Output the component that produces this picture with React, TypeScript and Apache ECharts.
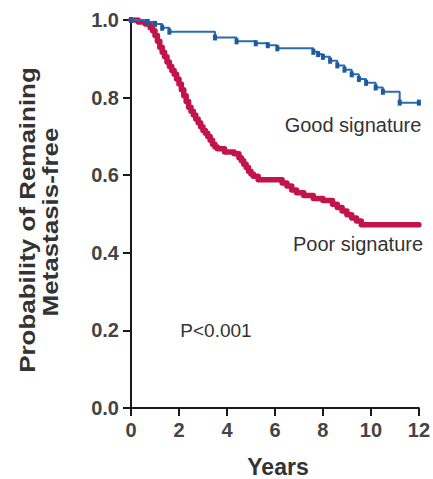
import React, { useEffect, useRef } from "react";
import * as echarts from "echarts";

const xTicks = [0, 2, 4, 6, 8, 10, 12];
const yTicks = [0, 0.2, 0.4, 0.6, 0.8, 1.0];

const goodTimes = [0, 0.7, 1.0, 1.3, 1.6, 3.5, 4.4, 5.2, 5.7, 6.1, 7.6, 7.8, 8.0, 8.3, 8.6, 8.9, 9.2, 9.5, 9.8, 10.2, 10.5, 11.2, 12];
const goodSurv = [1.0, 0.995, 0.99, 0.98, 0.97, 0.955, 0.945, 0.94, 0.935, 0.927, 0.918, 0.912, 0.905, 0.895, 0.883, 0.872, 0.86, 0.848, 0.838, 0.826, 0.815, 0.787, 0.787];

const poorTimes = [0, 0.3, 0.6, 0.8, 0.9, 1.0, 1.1, 1.2, 1.3, 1.4, 1.5, 1.6, 1.7, 1.8, 1.9, 2.0, 2.1, 2.2, 2.3, 2.4, 2.5, 2.6, 2.7, 2.8, 2.9, 3.0, 3.1, 3.2, 3.3, 3.4, 3.5, 3.6, 3.9, 4.3, 4.5, 4.6, 4.7, 4.8, 4.9, 5.0, 5.1, 5.3, 6.3, 6.5, 6.7, 6.9, 7.2, 7.6, 8.0, 8.4, 8.6, 8.8, 9.0, 9.2, 9.4, 9.6, 12];
const poorSurv = [1.0, 0.995, 0.99, 0.98, 0.972, 0.96, 0.945, 0.93, 0.917, 0.905, 0.892, 0.88, 0.87, 0.86, 0.848, 0.835, 0.82, 0.805, 0.79, 0.775, 0.765, 0.755, 0.745, 0.735, 0.725, 0.715, 0.708, 0.7, 0.69, 0.68, 0.673, 0.668, 0.66, 0.655, 0.645, 0.637, 0.628, 0.62, 0.61, 0.603, 0.597, 0.588, 0.58, 0.572, 0.562, 0.555, 0.548, 0.54, 0.535, 0.525, 0.517, 0.508, 0.498, 0.49, 0.482, 0.472, 0.472];

const yTitle = ["Probability of Remaining", "Metastasis-free"];
const xTitle = "Years";
const goodLabel = "Good signature";
const poorLabel = "Poor signature";
const pLabel = "P<0.001";

const FONT = "'Liberation Sans', Arial, sans-serif";
const TEXT = "#333333";

export default function App() {
  const ref = useRef<HTMLDivElement>(null);
  useEffect(() => {
    if (!ref.current) return;
    const chart = echarts.init(ref.current, null, { renderer: "svg" });
    const axisCommon = {
      axisLine: { show: true, lineStyle: { color: "#1a1a1a", width: 2 } },
      axisTick: { show: true, length: 8, lineStyle: { color: "#1a1a1a", width: 2 } },
      splitLine: { show: false },
    };
    chart.setOption({
      animation: false,
      backgroundColor: "#ffffff",
      grid: { left: 131, top: 20, right: 13, bottom: 71, containLabel: false },
      xAxis: {
        type: "value",
        min: xTicks[0],
        max: xTicks[xTicks.length - 1],
        interval: 2,
        ...axisCommon,
        axisLabel: {
          margin: 12,
          fontFamily: FONT,
          fontSize: 20,
          fontWeight: "bold",
          color: "#444444",
          formatter: (v: number) => String(v),
        },
      },
      yAxis: {
        type: "value",
        min: yTicks[0],
        max: yTicks[yTicks.length - 1],
        interval: 0.2,
        ...axisCommon,
        axisLabel: {
          margin: 12,
          fontFamily: FONT,
          fontSize: 20,
          fontWeight: "bold",
          color: "#444444",
          formatter: (v: number) => v.toFixed(1),
        },
      },
      series: [
        {
          name: poorLabel,
          type: "line",
          step: "end",
          data: poorTimes.map((t, i) => [t, poorSurv[i]]),
          showSymbol: false,
          symbol: "none",
          lineStyle: { color: "#c2134a", width: 5.5, join: "round", cap: "round" },
          z: 3,
        },
        {
          name: goodLabel,
          type: "line",
          step: "end",
          data: goodTimes.map((t, i) => [t, goodSurv[i]]),
          showSymbol: true,
          symbol: "rect",
          symbolSize: [4, 6],
          itemStyle: { color: "#1d5a9e" },
          lineStyle: { color: "#2b6bb0", width: 2 },
          z: 4,
        },
      ],
      graphic: [
        {
          type: "text",
          x: 27,
          y: 220,
          rotation: Math.PI / 2,
          scaleX: 1.18,
          style: {
            text: yTitle[0],
            fontFamily: FONT,
            fontSize: 22,
            fontWeight: "bold",
            fill: TEXT,
            align: "center",
            verticalAlign: "middle",
          },
        },
        {
          type: "text",
          x: 50,
          y: 222,
          rotation: Math.PI / 2,
          scaleX: 1.18,
          style: {
            text: yTitle[1],
            fontFamily: FONT,
            fontSize: 22,
            fontWeight: "bold",
            fill: TEXT,
            align: "center",
            verticalAlign: "middle",
          },
        },
        {
          type: "text",
          x: 278,
          y: 467,
          style: {
            text: xTitle,
            fontFamily: FONT,
            fontSize: 23,
            fontWeight: "bold",
            fill: TEXT,
            align: "center",
            verticalAlign: "middle",
          },
        },
        {
          type: "text",
          x: 353,
          y: 125,
          style: {
            text: goodLabel,
            fontFamily: FONT,
            fontSize: 20,
            fill: TEXT,
            align: "center",
            verticalAlign: "middle",
          },
        },
        {
          type: "text",
          x: 358,
          y: 244,
          style: {
            text: poorLabel,
            fontFamily: FONT,
            fontSize: 20,
            fill: TEXT,
            align: "center",
            verticalAlign: "middle",
          },
        },
        {
          type: "text",
          x: 216,
          y: 330,
          style: {
            text: pLabel,
            fontFamily: FONT,
            fontSize: 19,
            fill: TEXT,
            align: "center",
            verticalAlign: "middle",
          },
        },
      ],
    });
    return () => chart.dispose();
  }, []);
  return (
    <div
      ref={ref}
      style={{ position: "fixed", left: 0, top: 0, width: 433, height: 479, background: "#fff" }}
    />
  );
}
